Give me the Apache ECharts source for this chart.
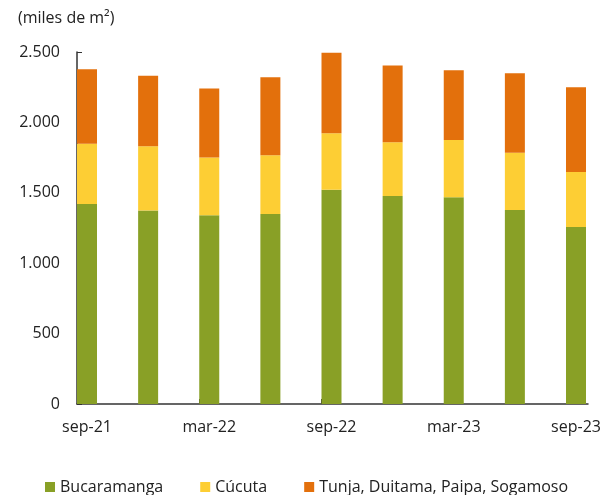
<!DOCTYPE html>
<html>
<head>
<meta charset="utf-8">
<script src="https://cdn.jsdelivr.net/npm/echarts@6/dist/echarts.min.js"></script>
<style>
  html, body { margin: 0; padding: 0; background: #fff; }
  #chart { width: 605px; height: 495px; }
</style>
</head>
<body>
<div id="chart"></div>
<script>
// trimestres sep-21 .. sep-23
const periodos = ['sep-21', 'dic-21', 'mar-22', 'jun-22', 'sep-22', 'dic-22', 'mar-23', 'jun-23', 'sep-23'];
const bucaramanga = [1420, 1375, 1340, 1349, 1522, 1477, 1468, 1378, 1257];
const cucuta = [429, 455, 410, 417, 401, 382, 407, 407, 391];
const tunjaDuitama = [528, 502, 490, 554, 572, 546, 495, 564, 601];
const yTicks = [0, 500, 1000, 1500, 2000, 2500];

const fuente = '"Open Sans", sans-serif';
const texto = '#222';
const linea = '#333';

const chart = echarts.init(document.getElementById('chart'));

// serie vacia para que las barras queden a la derecha de cada marca del eje
const relleno = periodos.map(() => '-');

function barra(name, data, color) {
  return {
    name: name,
    type: 'bar',
    stack: 'total',
    data: data,
    barWidth: 20,
    barGap: '0%',
    clip: false,
    itemStyle: { color: color },
    xAxisIndex: 0,
    yAxisIndex: 0
  };
}

const option = {
  animation: false,
  textStyle: { fontFamily: fuente, color: texto },
  title: {
    text: '(miles de m²)',
    left: 18,
    top: 10,
    padding: 0,
    textStyle: { fontFamily: fuente, fontSize: 16, fontWeight: 'normal', color: texto }
  },
  legend: {
    data: ['Bucaramanga', 'Cúcuta', 'Tunja, Duitama, Paipa, Sogamoso'],
    left: 45,
    top: 479,
    padding: 0,
    itemWidth: 10,
    itemHeight: 10,
    itemGap: 37,
    icon: 'rect',
    textStyle: { fontFamily: fuente, fontSize: 16, color: texto }
  },
  grid: [
    { left: 77, right: 39, top: 52, bottom: 91, containLabel: false },
    { left: 77, right: 17, top: 52, bottom: 91, containLabel: false }
  ],
  xAxis: [
    {
      type: 'category',
      gridIndex: 0,
      data: periodos,
      boundaryGap: false,
      axisLine: { show: false },
      axisTick: { show: true, inside: true, length: 5, interval: 1, lineStyle: { color: linea } },
      axisLabel: {
        interval: 1,
        margin: 15,
        fontSize: 16,
        color: texto,
        fontFamily: fuente,
        padding: [0, 0, 0, 20]
      },
      splitLine: { show: false }
    },
    {
      type: 'value',
      gridIndex: 1,
      min: 0,
      max: 1,
      axisLine: { show: true, onZero: false, lineStyle: { color: linea, width: 1.5 } },
      axisTick: { show: false },
      axisLabel: { show: false },
      splitLine: { show: false }
    }
  ],
  yAxis: [
    {
      type: 'value',
      gridIndex: 0,
      min: yTicks[0],
      max: yTicks[yTicks.length - 1],
      interval: 500,
      axisLine: { show: true, lineStyle: { color: linea, width: 1.5 } },
      axisTick: { show: true, inside: true, length: 5, lineStyle: { color: linea } },
      axisLabel: {
        margin: 17,
        fontSize: 16,
        color: texto,
        fontFamily: fuente,
        formatter: v => v.toLocaleString('de-DE')
      },
      splitLine: { show: false }
    },
    { type: 'value', gridIndex: 1, show: false, min: 0, max: 1 }
  ],
  series: [
    {
      name: 'pad',
      type: 'bar',
      stack: 'pad',
      data: relleno,
      barWidth: 20,
      barGap: '0%',
      silent: true,
      xAxisIndex: 0,
      yAxisIndex: 0
    },
    barra('Bucaramanga', bucaramanga, '#89A026'),
    barra('Cúcuta', cucuta, '#FDCE34'),
    barra('Tunja, Duitama, Paipa, Sogamoso', tunjaDuitama, '#E3700C')
  ]
};

chart.setOption(option);
</script>
</body>
</html>
